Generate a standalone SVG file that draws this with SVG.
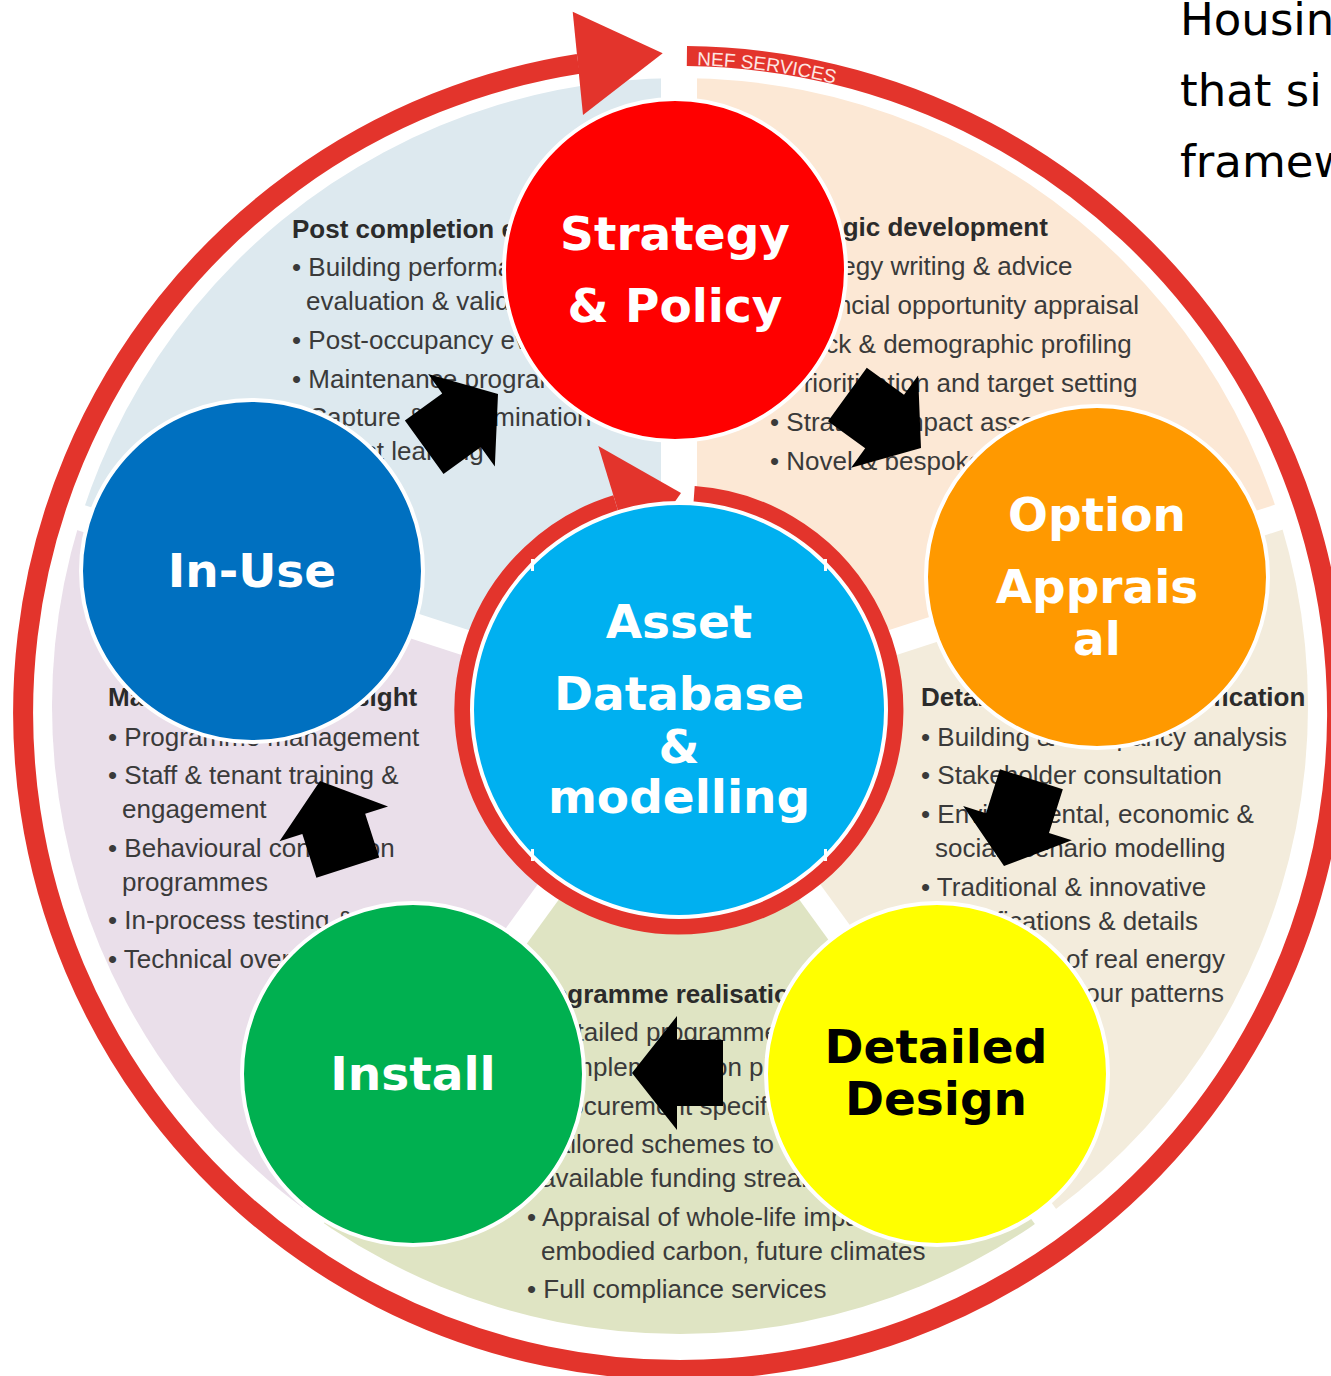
<svg xmlns="http://www.w3.org/2000/svg" width="1331" height="1376" viewBox="0 0 1331 1376">
  <defs>
    <style>
      .sec{font-family:"Liberation Sans",Arial,sans-serif;font-size:26px;fill:#3a3a3a}
      .hd{font-weight:bold;fill:#2b2b2b}
      .gap{stroke:#fff;stroke-width:26;stroke-linecap:butt}
      .ring{fill:none;stroke:#e3342c;stroke-linecap:butt}
      .red{fill:#e3342c}
      .node circle{stroke:#fff;stroke-width:4}
      .lbl{font-family:"DejaVu Sans",Verdana,sans-serif;font-weight:bold;font-size:47px;text-anchor:middle;fill:#fff}
      .dark{fill:#000}
      .blk{fill:#000}
      .note{font-family:"DejaVu Sans",Verdana,sans-serif;font-size:45px;fill:#000}
      .nef{font-family:"Liberation Sans",Arial,sans-serif;font-size:19px;fill:#fde6e3}
    </style>
    <clipPath id="disk"><circle cx="680" cy="706" r="628"/></clipPath>
    <path id="nefArc" d="M 697 65.2 A 648 648 0 0 1 902 104"/>
    <polygon id="blockArrow" points="0,0 -45,-57 -45,-33 -91,-33 -91,33 -45,33 -45,57"/>
  </defs>

  <rect width="1331" height="1376" fill="#fff"/>

  <!-- five service sectors -->
  <g id="sectors" clip-path="url(#disk)">
    <polygon fill="#dde9ef" points="679,712 -272.1,403 91.2,-97 679,-288"/>
    <polygon fill="#fce8d5" points="679,712 679,-288 1266.8,-97 1630.1,403"/>
    <polygon fill="#f3ecdc" points="679,712 1630.1,403 1630.1,1021 1266.8,1521"/>
    <polygon fill="#dfe4c3" points="679,712 1266.8,1521 679,1712 91.2,1521"/>
    <polygon fill="#eadfea" points="679,712 91.2,1521 -272.1,1021 -272.1,403"/>
  </g>
  <g id="sector-gaps">
    <line class="gap" x1="679" y1="712" x2="679" y2="12" style="stroke-width:36"/>
    <line class="gap" x1="679" y1="712" x2="1344.7" y2="495.7"/>
    <line class="gap" x1="679" y1="712" x2="1090.4" y2="1278.3"/>
    <line class="gap" x1="679" y1="712" x2="267.6" y2="1278.3"/>
    <line class="gap" x1="679" y1="712" x2="13.3" y2="495.7"/>
  </g>

  <!-- sector texts -->
  <g id="text-post-completion" class="sec">
    <text x="292" y="238" class="hd">Post completion evaluation</text>
    <text x="292" y="276">• Building performance</text>
    <text x="306" y="310">evaluation &amp; validation</text>
    <text x="292" y="349">• Post-occupancy evaluation</text>
    <text x="292" y="388">• Maintenance programmes</text>
    <text x="292" y="426">• Capture &amp; dissemination</text>
    <text x="306" y="460">of best learning</text>
  </g>
  <g id="text-strategic" class="sec">
    <text x="769" y="236" class="hd">Strategic development</text>
    <text x="770" y="275">• Strategy writing &amp; advice</text>
    <text x="770" y="314">• Financial opportunity appraisal</text>
    <text x="770" y="353">• Stock &amp; demographic profiling</text>
    <text x="770" y="392">• Prioritisation and target setting</text>
    <text x="770" y="431">• Strategic impact assessment</text>
    <text x="770" y="470">• Novel &amp; bespoke solutions</text>
  </g>
  <g id="text-detailed" class="sec">
    <text x="921" y="706" class="hd">Detailed design &amp; specification</text>
    <text x="921" y="746">• Building &amp; occupancy analysis</text>
    <text x="921" y="784">• Stakeholder consultation</text>
    <text x="921" y="823">• Environmental, economic &amp;</text>
    <text x="935" y="857">social scenario modelling</text>
    <text x="921" y="896">• Traditional &amp; innovative</text>
    <text x="935" y="930">specifications &amp; details</text>
    <text x="921" y="968">• Monitoring of real energy</text>
    <text x="935" y="1002">use &amp; behaviour patterns</text>
  </g>
  <g id="text-realisation" class="sec">
    <text x="524" y="1003" class="hd">Programme realisation</text>
    <text x="527" y="1041">• Detailed programme</text>
    <text x="541" y="1076">&amp; implementation plans</text>
    <text x="527" y="1115">• Procurement specification</text>
    <text x="527" y="1153">• Tailored schemes to</text>
    <text x="541" y="1187">available funding streams</text>
    <text x="527" y="1226">• Appraisal of whole-life impacts:</text>
    <text x="541" y="1260">embodied carbon, future climates</text>
    <text x="527" y="1298">• Full compliance services</text>
  </g>
  <g id="text-management" class="sec">
    <text x="108" y="706" class="hd">Management &amp; oversight</text>
    <text x="108" y="746">• Programme management</text>
    <text x="108" y="784">• Staff &amp; tenant training &amp;</text>
    <text x="122" y="818">engagement</text>
    <text x="108" y="857">• Behavioural conversion</text>
    <text x="122" y="891">programmes</text>
    <text x="108" y="929">• In-process testing &amp; inspection</text>
    <text x="108" y="968">• Technical oversight</text>
  </g>

  <!-- outer cycle arrow with label band -->
  <g id="ring-outer">
    <path class="ring" style="stroke-width:20" d="M 686.9 56 A 657 657 0 1 1 578.3 63.9"/>
    <polygon class="red" points="572.7,11.7 662.7,53.3 583,115"/>
    <text class="nef"><textPath href="#nefArc">NEF SERVICES</textPath></text>
  </g>

  <!-- inner cycle arrow -->
  <g id="ring-inner">
    <path class="ring" style="stroke-width:17" d="M 694.1 494.5 A 216 216 0 1 1 615.8 503.4"/>
    <polygon class="red" points="598.3,446.1 681,493 633.4,560.8"/>
  </g>

  <!-- stages -->
  <g id="node-strategy" class="node">
    <circle cx="675" cy="270" r="171" fill="#ff0000"/>
    <text class="lbl" x="675" y="250">Strategy</text>
    <text class="lbl" x="675" y="322">&amp; Policy</text>
  </g>
  <g id="node-option" class="node">
    <circle cx="1097" cy="577" r="171" fill="#ff9900"/>
    <text class="lbl" x="1097" y="531">Option</text>
    <text class="lbl" x="1097" y="603">Apprais</text>
    <text class="lbl" x="1097" y="655">al</text>
  </g>
  <g id="node-design" class="node">
    <circle cx="937" cy="1074" r="171" fill="#ffff00"/>
    <text class="lbl dark" x="936" y="1063">Detailed</text>
    <text class="lbl dark" x="936" y="1115">Design</text>
  </g>
  <g id="node-install" class="node">
    <circle cx="413" cy="1074" r="171" fill="#00b050"/>
    <text class="lbl" x="413" y="1090">Install</text>
  </g>
  <g id="node-inuse" class="node">
    <circle cx="252" cy="571" r="171" fill="#0070c0"/>
    <text class="lbl" x="252" y="587">In-Use</text>
  </g>
  <g id="node-asset" class="node">
    <circle cx="679" cy="710" r="207" fill="#00b0f0"/>
    <text class="lbl" x="679" y="638">Asset</text>
    <text class="lbl" x="679" y="710">Database</text>
    <text class="lbl" x="679" y="763">&amp;</text>
    <text class="lbl" x="679" y="813">modelling</text>
    <g fill="#fff">
      <rect x="531" y="559" width="3" height="12"/>
      <rect x="824" y="559" width="3" height="12"/>
      <rect x="531" y="849" width="3" height="12"/>
      <rect x="824" y="849" width="3" height="12"/>
    </g>
  </g>

  <!-- stage-to-stage block arrows -->
  <g id="connectors" class="blk">
    <use href="#blockArrow" transform="translate(498,394) rotate(-35.8)"/>
    <use href="#blockArrow" transform="translate(921,448) rotate(36)"/>
    <use href="#blockArrow" transform="translate(1004,866) rotate(107.5)"/>
    <use href="#blockArrow" transform="translate(632,1073) rotate(180)"/>
    <use href="#blockArrow" transform="translate(320,781) rotate(-107.8)"/>
  </g>

  <!-- side caption, cut at the edge -->
  <g id="caption" class="note">
    <text x="1180" y="35">Housin</text>
    <text x="1180" y="106">that si</text>
    <text x="1180" y="177">framew</text>
  </g>
</svg>
